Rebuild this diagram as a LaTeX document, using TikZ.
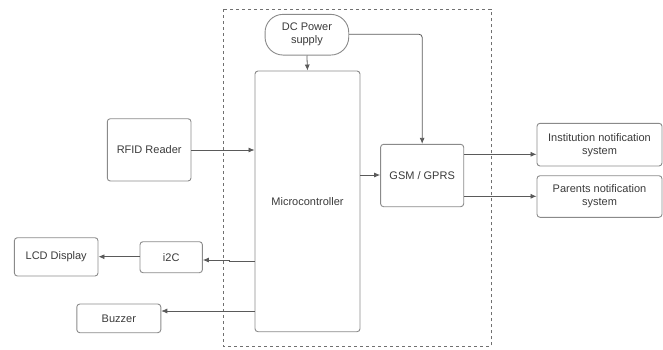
\documentclass[tikz,border=0pt]{standalone}
\usepackage{fontspec}
\setmainfont{Liberation Sans}
\usetikzlibrary{arrows.meta}
\definecolor{boxline}{HTML}{8A8A8A}
\definecolor{txt}{HTML}{3A3A3A}
\definecolor{wire}{HTML}{5A5A5A}
\definecolor{dashc}{HTML}{707070}
\tikzset{
  blk/.style={draw=boxline, line width=0.9pt, rounded corners=3pt, align=center, text=txt, font=\fontsize{11}{13}\selectfont, inner sep=0pt},
  wirearrow/.style={draw=wire, line width=0.8pt, -{Latex[length=6pt,width=5pt]}},
}
\begin{document}
\begin{tikzpicture}[x=1pt,y=-1pt]
\useasboundingbox (0,0) rectangle (663,349);
% dashed boundary
\draw[dashc, line width=0.6pt, dash pattern=on 3pt off 3pt] (223.6,9.3) rectangle (490.9,346.7);
% blocks
\node[blk, rounded corners=18pt, minimum width=83.7pt, minimum height=40.7pt] (dc) at (306.9,34.7) {DC Power\\supply};
\node[blk, minimum width=105pt, minimum height=260.7pt] (mc) at (307.5,201.35) {Microcontroller};
\node[blk, minimum width=83.7pt, minimum height=62.3pt] (rfid) at (149.15,149.85) {RFID Reader};
\node[blk, minimum width=83.1pt, minimum height=62.4pt] (gsm) at (422.15,175.5) {GSM / GPRS};
\node[blk, minimum width=125pt, minimum height=42.7pt] (inst) at (599.5,144.65) {Institution notification\\system};
\node[blk, minimum width=125pt, minimum height=41.6pt] (par) at (599.5,196.5) {Parents notification\\system};
\node[blk, minimum width=83.6pt, minimum height=38.3pt] (lcd) at (56.2,256.85) {LCD Display};
\node[blk, minimum width=62.4pt, minimum height=31pt] (i2c) at (171.2,257.2) {i2C};
\node[blk, minimum width=84pt, minimum height=28.7pt] (buz) at (118.8,318.35) {Buzzer};
% connectors
\draw[wirearrow] (dc.south) -- (mc.north);
\draw[wirearrow, rounded corners=3pt] (dc.east |- 0,34.3) -| (gsm.north);
\draw[wirearrow] (rfid.east |- 0,150) -- (mc.west |- 0,150);
\draw[wirearrow] (mc.east |- 0,175) -- (gsm.west |- 0,175);
\draw[wirearrow] (gsm.east |- 0,154.3) -- (inst.west |- 0,154.3);
\draw[wirearrow] (gsm.east |- 0,196.3) -- (par.west |- 0,196.3);
\draw[wirearrow] (mc.west |- 0,261) -- (229,261) -- (229,260) -- (i2c.east |- 0,260);
\draw[wirearrow] (i2c.west |- 0,256.7) -- (lcd.east |- 0,256.7);
\draw[wirearrow] (mc.west |- 0,311) -- (buz.east |- 0,311);
\end{tikzpicture}
\end{document}
